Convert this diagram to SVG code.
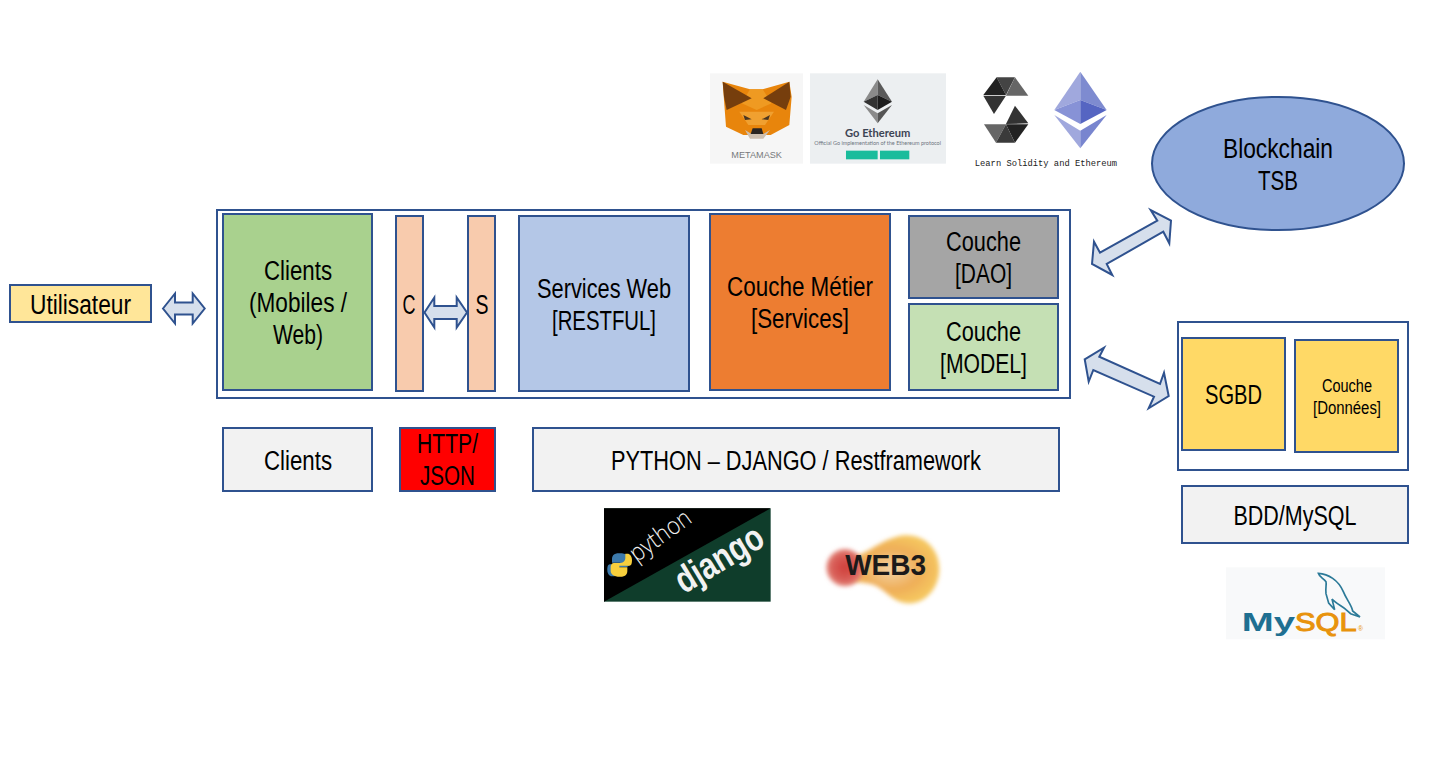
<svg xmlns="http://www.w3.org/2000/svg" width="1449" height="759" viewBox="0 0 1449 759">
<style>
.b{stroke:#2f528f;stroke-width:2}
.t{font-family:"Liberation Sans Narrow","Liberation Sans",Arial,sans-serif;font-size:27px;text-anchor:middle;fill:#000}
.a{fill:#d6dfec;stroke:#2f528f;stroke-width:2;stroke-linejoin:miter}
</style>
<defs>
<filter id="blur" x="-30%" y="-30%" width="160%" height="160%"><feGaussianBlur stdDeviation="7"/></filter>
<radialGradient id="w1"><stop offset="0" stop-color="#cf3f3a"/><stop offset=".7" stop-color="#d9605a"/><stop offset="1" stop-color="#e58d80"/></radialGradient>
<radialGradient id="w2"><stop offset="0" stop-color="#f4d2a4"/><stop offset=".6" stop-color="#efae58"/><stop offset="1" stop-color="#f5c65f"/></radialGradient>
</defs>
<rect width="1449" height="759" fill="#fff"/>

<g id="logo-metamask" transform="translate(700 60) scale(.3333)">
<rect x="30" y="40" width="279" height="271" fill="#f6f6f6"/>
<polygon points="68,65 150,88 188,88 268,65 275,110 268,195 212,225 130,225 78,200 72,120" fill="#e8850c"/>
<polygon points="150,88 188,88 215,130 170,150 125,130" fill="#ef9a22"/>
<polygon points="118,155 222,155 195,195 145,195" fill="#f0a030"/>
<polygon points="68,65 155,115 80,150 72,110" fill="#763e0d"/>
<polygon points="268,65 190,115 258,150 272,110" fill="#763e0d"/>
<polygon points="135,210 155,222 190,222 210,210 190,236 150,236" fill="#cdbfb0"/>
<polygon points="158,205 185,205 190,222 152,222" fill="#2a2522"/>
<polygon points="130,165 155,178 135,180" fill="#4a3520"/>
<polygon points="210,165 185,178 205,180" fill="#4a3520"/>
<text x="170" y="293" font-family="'Liberation Sans',sans-serif" font-size="27" text-anchor="middle" fill="#77797c" textLength="152" lengthAdjust="spacingAndGlyphs">METAMASK</text>
</g>

<g id="logo-go-ethereum" transform="translate(700 60) scale(.3333)">
<rect x="330" y="40" width="408" height="271" fill="#eceff1"/>
<polygon points="533,58 491,125 533,105" fill="#8a8a8a"/>
<polygon points="533,58 576,125 533,105" fill="#5a5a5a"/>
<polygon points="533,105 491,125 533,150" fill="#333"/>
<polygon points="533,105 576,125 533,150" fill="#1c1c1c"/>
<polygon points="491,135 533,160 533,190" fill="#8a8a8a"/>
<polygon points="576,135 533,160 533,190" fill="#555"/>
<text x="533" y="231" font-family="Lato,sans-serif" font-weight="700" font-size="36" text-anchor="middle" fill="#3d4454" textLength="196" lengthAdjust="spacingAndGlyphs">Go Ethereum</text>
<text x="533" y="255" font-family="Lato,sans-serif" font-size="19" text-anchor="middle" fill="#6c7580" textLength="380" lengthAdjust="spacingAndGlyphs">Official Go implementation of the Ethereum protocol</text>
<rect x="438" y="272" width="95" height="26" fill="#1abc9c"/>
<rect x="540" y="272" width="88" height="26" fill="#1abc9c"/>
</g>

<g id="logo-solidity" transform="translate(700 60) scale(.3333)">
<polygon points="890,52 945,52 918,105" fill="#444"/>
<polygon points="890,52 850,105 918,105" fill="#222"/>
<polygon points="945,52 985,107 918,107" fill="#666"/>
<polygon points="850,107 918,107 882,162" fill="#333"/>
<polygon points="945,137 985,190 918,192" fill="#333"/>
<polygon points="852,193 918,193 888,248" fill="#666"/>
<polygon points="918,193 985,193 945,248" fill="#222"/>
<polygon points="918,193 888,248 945,248" fill="#3a3a3a"/>
<polygon points="1141,35 1063,150 1141,120" fill="#a0a8dd"/>
<polygon points="1141,35 1220,150 1141,120" fill="#7e8bd0"/>
<polygon points="1063,150 1141,120 1141,192" fill="#8792d6"/>
<polygon points="1220,150 1141,120 1141,192" fill="#5565c2"/>
<polygon points="1063,165 1141,212 1141,265" fill="#a0a8dd"/>
<polygon points="1220,165 1141,212 1141,265" fill="#7885cf"/>
<text x="1038" y="317" font-family="'Liberation Mono',monospace" font-size="26" text-anchor="middle" fill="#222" textLength="427" lengthAdjust="spacingAndGlyphs">Learn Solidity and Ethereum</text>
</g>

<g id="logo-python-django" transform="translate(590 500) scale(.3333)">
<rect x="42" y="25" width="500" height="280" fill="#0f3d2b"/>
<polygon points="42,25 542,25 42,305" fill="#000"/>
<path d="M88,160c-18,0-22,8-22,18v10h24v5H60c-8,0-8,12-8,18 0,10 6,18 14,18h8v-14c0-8 6-14 14-14h20c6,0 12-6 12-12v-11c0-10-10-18-32-18z" fill="#3d7aab"/>
<path d="M90,230c18,0 22-8 22-18v-10H88v-5h30c8,0 8-12 8-18 0-10-6-18-14-18h-6v14c0,8-6 14-14 14H72c-6,0-10 6-10 12v11c0,10 8,18 28,18z" fill="#f7cf3c"/>
<text transform="translate(140 188) rotate(-36)" font-family="'Open Sans',sans-serif" font-weight="300" font-size="74" fill="#f0f0f0" textLength="210" lengthAdjust="spacingAndGlyphs">python</text>
<text transform="translate(282 283) rotate(-31)" font-family="'Liberation Sans',sans-serif" font-weight="700" font-size="112" fill="#f2f2f2" textLength="290" lengthAdjust="spacingAndGlyphs">django</text>
</g>

<g id="logo-web3" transform="translate(590 500) scale(.3333)">
<path d="M760,175 C830,170 850,130 920,110 C990,90 1050,140 1048,210 C1046,270 1000,315 950,310 C900,305 880,255 830,250 L760,240z" fill="url(#w2)" filter="url(#blur)"/>
<circle cx="765" cy="203" r="56" fill="url(#w1)" filter="url(#blur)"/>
<text x="887" y="226" font-family="'Liberation Sans',sans-serif" font-weight="700" font-size="88" text-anchor="middle" fill="#1c1a1a" textLength="243" lengthAdjust="spacingAndGlyphs">WEB3</text>
</g>

<g id="logo-mysql" transform="translate(1210 560) scale(.3333)">
<rect x="48" y="22" width="477" height="216" fill="#f8f9fa"/>
<path d="M325,40c30,2 60,20 75,55 10,25 25,40 28,58l22,18-28-10-14-12c-10,-10-30,-18-42,-32l8,32-18,-20-8,-28c-2-18 2-26 0,-36-8-10-20-14-23-25z" fill="none" stroke="#2c7a98" stroke-width="5"/>
<text x="95" y="212" font-family="'Liberation Sans',sans-serif" font-weight="700" font-size="80" fill="#1f6f91" textLength="160" lengthAdjust="spacingAndGlyphs">My</text>
<text x="255" y="212" font-family="'Liberation Sans',sans-serif" font-size="80" fill="#e8930c" stroke="#e8930c" stroke-width="3" textLength="185" lengthAdjust="spacingAndGlyphs">SQL</text>
<text x="444" y="212" font-family="'Liberation Sans',sans-serif" font-size="20" fill="#e8930c">®</text>
</g>

<g id="frame-main"><rect class="b" x="217" y="210" width="853" height="188" fill="#fff"/></g>
<g id="frame-db"><rect class="b" x="1178" y="322" width="230" height="148" fill="#fff"/></g>

<g id="connectors">
<polygon class="a" points="163,308.500 175,293.500 175,302.500 192.700,302.500 192.700,293.500 204.700,308.500 192.700,323.500 192.700,314.500 175,314.500 175,323.500"/>
<polygon class="a" points="424.500,312.500 434.300,297.500 434.300,306 456.700,306 456.700,297.500 467,312.500 456.700,327.500 456.700,319 434.300,319 434.300,327.500"/>
<polygon class="a" points="1092,264 1094,241.700 1100,252.700 1157.300,220.700 1150.700,210 1171,220.700 1169.300,243.300 1163.300,231.700 1106.700,264 1112.300,275"/>
<polygon class="a" points="1084.700,359.300 1104,347.700 1099.300,356.700 1160,384 1164,372.700 1168.700,396 1148.700,408.300 1154,396.700 1093.300,370 1088.700,381.700"/>
</g>

<g id="utilisateur"><rect class="b" x="10" y="285" width="141" height="37" fill="#ffe699"/><text class="t" x="80.500" y="314" textLength="101" lengthAdjust="spacingAndGlyphs">Utilisateur</text></g>
<g id="clients"><rect class="b" x="223" y="214" width="149" height="176" fill="#a9d18e"/>
<text class="t" x="298" y="280" textLength="68" lengthAdjust="spacingAndGlyphs">Clients</text>
<text class="t" x="298" y="312" textLength="98" lengthAdjust="spacingAndGlyphs">(Mobiles /</text>
<text class="t" x="298" y="344" textLength="50" lengthAdjust="spacingAndGlyphs">Web)</text></g>
<g id="c"><rect class="b" x="396" y="216" width="27" height="175" fill="#f8cbad"/><text class="t" x="409" y="314" textLength="13" lengthAdjust="spacingAndGlyphs">C</text></g>
<g id="s"><rect class="b" x="468" y="216" width="27" height="175" fill="#f8cbad"/><text class="t" x="482" y="314" textLength="13" lengthAdjust="spacingAndGlyphs">S</text></g>
<g id="services-web"><rect class="b" x="519" y="216" width="170" height="175" fill="#b4c7e7"/>
<text class="t" x="604" y="298" textLength="134" lengthAdjust="spacingAndGlyphs">Services Web</text>
<text class="t" x="604" y="330" textLength="104" lengthAdjust="spacingAndGlyphs">[RESTFUL]</text></g>
<g id="couche-metier"><rect class="b" x="710" y="214" width="180" height="176" fill="#ed7d31"/>
<text class="t" x="800" y="296" textLength="146" lengthAdjust="spacingAndGlyphs">Couche Métier</text>
<text class="t" x="800" y="328" textLength="98" lengthAdjust="spacingAndGlyphs">[Services]</text></g>
<g id="couche-dao"><rect class="b" x="909" y="216" width="149" height="82" fill="#a5a5a5"/>
<text class="t" x="983.500" y="251" textLength="75" lengthAdjust="spacingAndGlyphs">Couche</text>
<text class="t" x="983.500" y="283" textLength="57" lengthAdjust="spacingAndGlyphs">[DAO]</text></g>
<g id="couche-model"><rect class="b" x="909" y="304" width="149" height="86" fill="#c5e0b4"/>
<text class="t" x="983.500" y="341" textLength="75" lengthAdjust="spacingAndGlyphs">Couche</text>
<text class="t" x="983.500" y="373" textLength="87" lengthAdjust="spacingAndGlyphs">[MODEL]</text></g>
<g id="clients-tech"><rect class="b" x="223" y="428" width="149" height="63" fill="#f2f2f2"/><text class="t" x="298" y="470" textLength="68" lengthAdjust="spacingAndGlyphs">Clients</text></g>
<g id="http-json"><rect class="b" x="400" y="428" width="95" height="63" fill="#ff0000"/>
<text class="t" x="447.500" y="453" textLength="61" lengthAdjust="spacingAndGlyphs">HTTP/</text>
<text class="t" x="447.500" y="485" textLength="55" lengthAdjust="spacingAndGlyphs">JSON</text></g>
<g id="python-django"><rect class="b" x="533" y="428" width="526" height="63" fill="#f2f2f2"/><text class="t" x="796" y="470" textLength="370" lengthAdjust="spacingAndGlyphs">PYTHON – DJANGO / Restframework</text></g>
<g id="blockchain"><ellipse class="b" cx="1278" cy="163.500" rx="126" ry="66.500" fill="#8faadc"/>
<text class="t" x="1278" y="158" textLength="110" lengthAdjust="spacingAndGlyphs">Blockchain</text>
<text class="t" x="1278" y="190" textLength="40" lengthAdjust="spacingAndGlyphs">TSB</text></g>
<g id="sgbd"><rect class="b" x="1182" y="338" width="103" height="112" fill="#ffd966"/><text class="t" x="1233.500" y="404" textLength="57" lengthAdjust="spacingAndGlyphs">SGBD</text></g>
<g id="couche-donnees"><rect class="b" x="1295" y="340" width="103" height="112" fill="#ffd966"/>
<text class="t" style="font-size:17.5px" x="1347" y="392" textLength="50" lengthAdjust="spacingAndGlyphs">Couche</text>
<text class="t" style="font-size:17.5px" x="1347" y="414" textLength="68" lengthAdjust="spacingAndGlyphs">[Données]</text></g>
<g id="bdd-mysql"><rect class="b" x="1182" y="486" width="226" height="57" fill="#f2f2f2"/><text class="t" x="1295" y="525" textLength="123" lengthAdjust="spacingAndGlyphs">BDD/MySQL</text></g>
</svg>
